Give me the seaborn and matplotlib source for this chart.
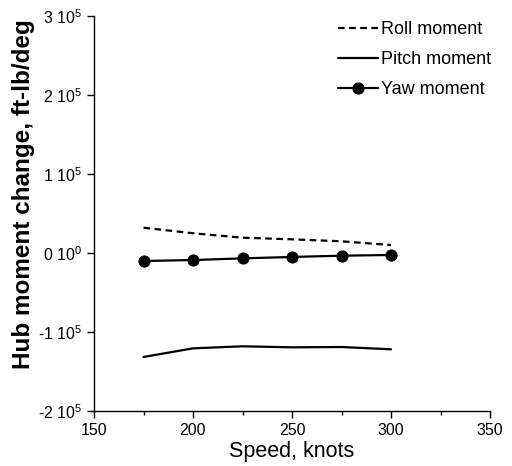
import matplotlib
matplotlib.use("Agg")
import matplotlib.pyplot as plt
import seaborn as sns
import pandas as pd
from matplotlib.ticker import MultipleLocator

speed = [175, 200, 225, 250, 275, 300]
roll = [32000, 25000, 19400, 17300, 14800, 10100]
pitch = [-131600, -120700, -118100, -119400, -119000, -121900]
yaw = [-10100, -8900, -6800, -5000, -3400, -2500]

yticks = [-200000, -100000, 0, 100000, 200000, 300000]
ytick_labels = ["-2 10$^{5}$", "-1 10$^{5}$", "0 10$^{0}$", "1 10$^{5}$", "2 10$^{5}$", "3 10$^{5}$"]
xticks = [150, 200, 250, 300, 350]

sns.set_style("ticks")
plt.rcParams['font.family'] = ['Liberation Sans', 'DejaVu Sans']
plt.rcParams['mathtext.fontset'] = 'custom'
plt.rcParams['mathtext.rm'] = 'Liberation Sans'
plt.rcParams['mathtext.it'] = 'Liberation Sans'
plt.rcParams['text.color'] = 'black'
plt.rcParams['axes.labelcolor'] = 'black'
plt.rcParams['xtick.color'] = 'black'
plt.rcParams['ytick.color'] = 'black'

fig = plt.figure(figsize=(5.12, 4.66), dpi=100)
ax = fig.add_axes([94/512, 1-411/466, (490-94)/512, (411-16)/466])

df = pd.DataFrame({"speed": speed, "roll": roll, "pitch": pitch, "yaw": yaw})
sns.lineplot(data=df, x="speed", y="roll", ax=ax, color="black", lw=1.6,
             label="Roll moment", linestyle=(0, (3, 2)))
sns.lineplot(data=df, x="speed", y="pitch", ax=ax, color="black", lw=1.6,
             label="Pitch moment")
sns.lineplot(data=df, x="speed", y="yaw", ax=ax, color="black", lw=1.6,
             marker="o", markersize=8, markeredgecolor="black",
             label="Yaw moment")

ax.set_xlim(150, 350)
ax.set_ylim(-200000, 300000)
ax.set_xticks(xticks)
ax.xaxis.set_minor_locator(MultipleLocator(25))
ax.set_yticks(yticks)
ax.set_yticklabels(ytick_labels)
ax.tick_params(axis='both', which='major', direction='out', length=5, width=1,
               labelsize=11.5, color='black', labelcolor='black')
ax.tick_params(axis='x', which='minor', direction='out', length=3, width=1, color='black')
for s in ["top", "right"]:
    ax.spines[s].set_visible(False)
for s in ["left", "bottom"]:
    ax.spines[s].set_color("black")
    ax.spines[s].set_linewidth(1)

ax.set_xlabel("Speed, knots", fontsize=15.5, labelpad=2, color='black')
ax.set_ylabel("Hub moment change, ft-lb/deg", fontsize=17.5, fontweight="bold", color='black')
ax.yaxis.set_label_coords(-0.15, 0.55)

leg = ax.legend(loc="upper right", frameon=False, fontsize=13, handlelength=2.2,
                handletextpad=0.2, labelspacing=0.72, borderaxespad=0.0,
                bbox_to_anchor=(1.022, 1.005))
for t in leg.get_texts():
    t.set_color('black')

fig.savefig("out.png", dpi=100)
